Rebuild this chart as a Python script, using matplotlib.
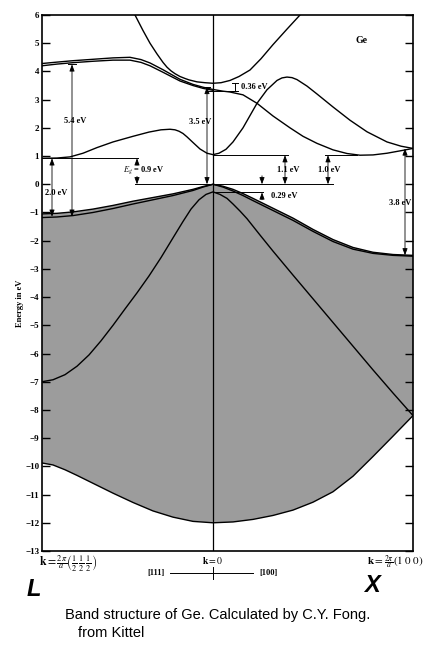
import numpy as np
import matplotlib
matplotlib.use('Agg')
import matplotlib.pyplot as plt

plt.rcParams['mathtext.fontset'] = 'stix'
plt.rcParams['font.family'] = ['Liberation Serif', 'DejaVu Serif']

# k along L -> Gamma -> X (Gamma = 0, X = 1), energies in eV
k_b1 = [-0.855, -0.80, -0.74, -0.68, -0.60, -0.50, -0.40, -0.30, -0.20, -0.10, 0.0,
        0.10, 0.20, 0.30, 0.40, 0.50, 0.60, 0.70, 0.80, 0.90, 1.0]
e_b1 = [-9.88, -9.95, -10.12, -10.32, -10.6, -10.95, -11.28, -11.58, -11.8, -11.95, -12.0,
        -11.97, -11.88, -11.74, -11.55, -11.27, -10.9, -10.35, -9.65, -8.93, -8.2]

k_b2 = [-0.855, -0.80, -0.74, -0.68, -0.62, -0.56, -0.50, -0.44, -0.38, -0.32, -0.26,
        -0.20, -0.15, -0.11, -0.07, -0.035, 0.0, 0.035, 0.07, 0.10, 0.135, 0.17, 0.235,
        0.30, 0.40, 0.50, 0.60, 0.70, 0.80, 0.90, 1.0]
e_b2 = [-7.0, -6.93, -6.75, -6.45, -6.05, -5.55, -5.0, -4.42, -3.85, -3.25, -2.6,
        -1.9, -1.32, -0.88, -0.55, -0.36, -0.27, -0.36, -0.5, -0.7, -0.95, -1.22, -1.8,
        -2.37, -3.22, -4.06, -4.9, -5.74, -6.58, -7.4, -8.2]

k_vb = [-0.855, -0.78, -0.70, -0.60, -0.50, -0.40, -0.30, -0.20, -0.10, -0.05, 0.0,
        0.05, 0.10, 0.15, 0.20, 0.30, 0.40, 0.50, 0.60, 0.70, 0.80, 0.90, 1.0]
e_vb_a = [-1.05, -1.03, -0.98, -0.88, -0.75, -0.6, -0.47, -0.34, -0.18, -0.08, 0.0,
          -0.07, -0.18, -0.33, -0.5, -0.85, -1.2, -1.6, -1.96, -2.24, -2.41, -2.49, -2.52]
e_vb_b = [-1.18, -1.16, -1.11, -1.0, -0.86, -0.7, -0.55, -0.4, -0.22, -0.1, 0.0,
          -0.1, -0.24, -0.4, -0.58, -0.93, -1.28, -1.67, -2.03, -2.3, -2.45, -2.52, -2.55]

k_c1 = [-0.855, -0.78, -0.715, -0.65, -0.58, -0.50, -0.40, -0.32, -0.26, -0.215, -0.19,
        -0.17, -0.15, -0.13, -0.10, -0.065, -0.03, 0.0, 0.03, 0.065, 0.10, 0.15, 0.22,
        0.27, 0.32, 0.345, 0.37, 0.395, 0.42, 0.47, 0.52, 0.60, 0.685, 0.77, 0.87,
        0.94, 1.0]
e_c1 = [0.92, 0.93, 0.97, 1.1, 1.3, 1.5, 1.7, 1.85, 1.93, 1.95, 1.93,
        1.88, 1.8, 1.68, 1.48, 1.25, 1.1, 1.05, 1.1, 1.24, 1.5, 2.0, 2.87,
        3.35, 3.68, 3.77, 3.8, 3.78, 3.71, 3.48, 3.2, 2.74, 2.27, 1.86, 1.5,
        1.35, 1.27]

k_c2 = [-0.855, -0.78, -0.70, -0.60, -0.50, -0.415, -0.36, -0.315, -0.25, -0.165, -0.10,
        -0.05, 0.0, 0.05, 0.085, 0.15, 0.22, 0.30, 0.385, 0.45, 0.52, 0.60, 0.67,
        0.735, 0.80, 0.87, 0.94, 1.0]
e_c2 = [4.28, 4.33, 4.38, 4.43, 4.48, 4.5, 4.42, 4.3, 4.06, 3.72, 3.54,
        3.44, 3.36, 3.3, 3.27, 3.17, 2.87, 2.42, 2.0, 1.7, 1.45, 1.22, 1.09,
        1.03, 1.04, 1.1, 1.19, 1.27]
k_c2b = [-0.855, -0.78, -0.70, -0.60, -0.50, -0.415, -0.36, -0.315, -0.25, -0.165, -0.10,
         -0.05, 0.0]
e_c2b = [4.2, 4.26, 4.31, 4.36, 4.4, 4.4, 4.32, 4.2, 3.97, 3.66, 3.5, 3.4, 3.33]

k_par = [-0.42, -0.39, -0.35, -0.315, -0.28, -0.25, -0.23, -0.21, -0.19, -0.165, -0.14,
         -0.12, -0.08, -0.04, 0.0, 0.04, 0.085, 0.13, 0.185, 0.24, 0.30, 0.37, 0.435, 0.47]
e_par = [6.35, 6.0, 5.45, 5.0, 4.62, 4.32, 4.15, 4.02, 3.92, 3.82, 3.75,
         3.7, 3.63, 3.6, 3.58, 3.6, 3.68, 3.82, 4.05, 4.45, 4.95, 5.5, 6.0, 6.3]

fig = plt.figure(figsize=(4.42, 6.5), dpi=100)
ax = fig.add_axes([42/442, 1-551/650, 371/442, 536/650])

# shaded valence region
ax.fill(np.concatenate([k_vb, k_b1[::-1]]), np.concatenate([e_vb_a, e_b1[::-1]]),
        color='#9c9c9c', lw=0)

lw = 1.0
for kk, ee in [(k_b1, e_b1), (k_b2, e_b2), (k_vb, e_vb_a), (k_vb, e_vb_b),
               (k_c1, e_c1), (k_c2, e_c2), (k_c2b, e_c2b), (k_par, e_par)]:
    ax.plot(kk, ee, color='black', lw=lw, solid_joinstyle='round')

ax.axvline(0, color='black', lw=0.9)

ax.set_xlim(-0.855, 1.0)
ax.set_ylim(-13, 6)
ax.set_xticks([])
ax.set_yticks(range(-13, 7))
ax.tick_params(axis='y', direction='in', length=6, width=1, right=True,
               labelsize=6.5, pad=2)
for t in ax.get_yticklabels():
    t.set_fontweight('bold')
for s in ax.spines.values():
    s.set_linewidth(1.2)

txt = dict(fontsize=6, fontweight='bold', ha='center', va='center')
ah = dict(arrowstyle='<|-|>,head_length=0.4,head_width=0.15', lw=0.6, color='black',
          shrinkA=0, shrinkB=0, mutation_scale=10)
sh = dict(arrowstyle='-|>,head_length=0.4,head_width=0.15', lw=0.6, color='black',
          shrinkA=0, shrinkB=0, mutation_scale=10)
hl = dict(color='black', lw=0.7)

def darrow(k, e0, e1):
    ax.annotate('', xy=(k, e1), xytext=(k, e0), arrowprops=ah)

def sarrow(k, e0, e1):
    ax.annotate('', xy=(k, e1), xytext=(k, e0), arrowprops=sh)

# 5.4 eV and 2.0 eV at L
darrow(-0.705, -1.15, 4.25)
ax.plot([-0.725, -0.685], [4.25, 4.25], **hl)
ax.text(-0.69, 2.23, '5.4 eV', **txt)
darrow(-0.805, -1.15, 0.92)
ax.text(-0.785, -0.32, '2.0 eV', **txt)

# indirect gap
ax.plot([-0.855, -0.375], [0.92, 0.92], **hl)
ax.plot([-0.39, 0], [0, 0], **hl)
sarrow(-0.38, 0.68, 0.92)
sarrow(-0.38, 0.28, 0.0)
ax.text(-0.345, 0.5, r'$E_g$ = 0.9 eV', **txt)

# 3.5 eV and 0.36 eV at Gamma
darrow(-0.03, 0.0, 3.45)
ax.plot([-0.045, -0.015], [3.45, 3.45], **hl)
ax.text(-0.063, 2.2, '3.5 eV', **txt)
ax.plot([-0.03, 0.12], [3.3, 3.3], **hl)
ax.plot([0.11, 0.11], [3.3, 3.6], **hl)
ax.plot([0.095, 0.125], [3.6, 3.6], **hl)
ax.plot([0.095, 0.125], [3.3, 3.3], **hl)
ax.text(0.205, 3.45, '0.36 eV', **txt)

# 1.1 eV, 1.0 eV, 0.29 eV
ax.plot([0, 0.375], [1.03, 1.03], **hl)
ax.plot([0.56, 0.72], [1.03, 1.03], **hl)
ax.plot([0, 0.6], [0, 0], **hl)
darrow(0.36, 0.0, 1.03)
ax.text(0.375, 0.5, '1.1 eV', **txt)
darrow(0.575, 0.0, 1.03)
ax.text(0.58, 0.5, '1.0 eV', **txt)
ax.plot([0, 0.25], [-0.29, -0.29], **hl)
sarrow(0.245, 0.3, 0.0)
sarrow(0.245, -0.55, -0.29)
ax.text(0.355, -0.42, '0.29 eV', **txt)

# 3.8 eV at X
darrow(0.96, -2.52, 1.27)
ax.text(0.935, -0.67, '3.8 eV', **txt)

ax.text(0.745, 5.1, 'Ge', fontsize=7, fontweight='bold', ha='center', va='center')

# labels outside the axes
def ftext(px, py, s, **kw):
    fig.text(px/442, 1-py/650, s, **kw)

ftext(20, 303, 'Energy in eV', rotation=90, fontsize=6, fontweight='bold',
      ha='center', va='center')
ftext(68, 564, r'$\mathbf{k} = \frac{2\pi}{a}\left(\frac{1}{2}\,\frac{1}{2}\,\frac{1}{2}\right)$',
      fontsize=8.5, ha='center', va='center')
ftext(213, 560, r'$\mathbf{k} = 0$', fontsize=7, ha='center', va='center')
ftext(395, 563, r'$\mathbf{k} = \frac{2\pi}{a}(1\;0\;0)$', fontsize=8,
      ha='center', va='center')
ftext(156, 573, '[111]', fontsize=6, fontweight='bold', ha='center', va='center')
ftext(268, 573, '[100]', fontsize=6, fontweight='bold', ha='center', va='center')
fig.add_artist(plt.Line2D([170/442, 253/442], [1-573/650, 1-573/650], color='black', lw=0.7))
fig.add_artist(plt.Line2D([213/442, 213/442], [1-567/650, 1-579/650], color='black', lw=0.7))

ftext(34, 589, 'L', fontsize=17, fontweight='bold', fontstyle='italic',
      family='Liberation Sans', ha='center', va='center')
ftext(372, 586, 'X', fontsize=17, fontweight='bold', fontstyle='italic',
      family='Liberation Sans', ha='center', va='center')
ftext(65, 615, 'Band structure of Ge. Calculated by C.Y. Fong.', fontsize=10.5,
      family='Liberation Sans', ha='left', va='center')
ftext(78, 633, 'from Kittel', fontsize=10.5, family='Liberation Sans',
      ha='left', va='center')

fig.savefig('out.png', dpi=100)
